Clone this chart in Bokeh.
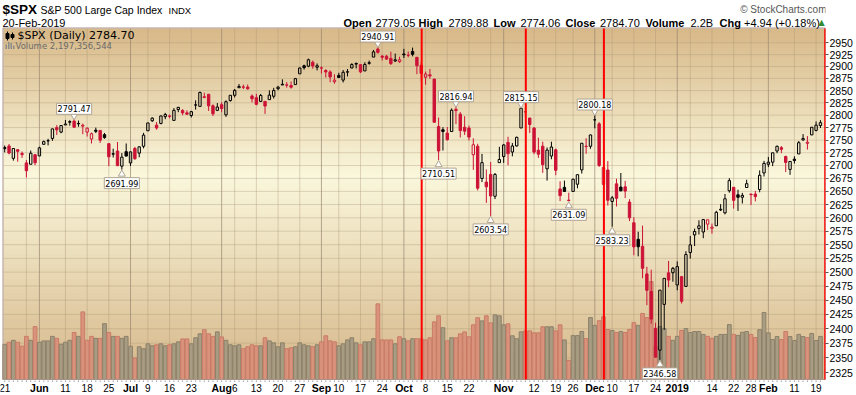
import math
import pandas as pd
from bokeh.plotting import figure
from bokeh.models import (Range1d, LinearScale, FixedTicker, Label, LabelSet,
                          ColumnDataSource, PrintfTickFormatter)
from bokeh.core.properties import value
from bokeh.embed import file_html
from bokeh.resources import INLINE

# ------------------------------------------------------------------ data
holidays = ["2018-05-28", "2018-07-04", "2018-09-03", "2018-11-22", "2018-12-05",
            "2018-12-25", "2019-01-01", "2019-01-21", "2019-02-18"]
dates = [d.strftime("%Y-%m-%d") for d in pd.bdate_range("2018-05-21", "2019-02-20")
         if d.strftime("%Y-%m-%d") not in holidays]

prev_close = 2712.97

opens = [2735.39, 2738.34, 2713.98, 2730.94, 2723.60, 2705.11, 2702.43, 2720.98, 2718.70, 2741.67,
         2748.46, 2753.25, 2774.84, 2765.84, 2780.18, 2785.60, 2787.94, 2783.21, 2777.78, 2765.79,
         2752.01, 2769.73, 2769.28, 2760.79, 2742.94, 2722.12, 2728.45, 2698.69, 2727.13, 2704.95,
         2733.27, 2724.19, 2737.68, 2768.51, 2788.56, 2779.82, 2783.14, 2796.93, 2797.36, 2789.34,
         2811.35, 2809.37, 2804.55, 2799.17, 2820.68, 2817.73, 2835.49, 2842.35, 2819.00, 2809.73,
         2821.17, 2800.48, 2829.62, 2840.29, 2855.92, 2856.79, 2857.19, 2838.90, 2835.46, 2827.88,
         2827.95, 2831.44, 2838.32, 2853.93, 2861.51, 2860.99, 2860.29, 2862.35, 2884.69, 2901.45,
         2900.62, 2908.94, 2898.37, 2896.96, 2891.59, 2888.64, 2868.26, 2881.39, 2871.57, 2888.29,
         2896.85, 2906.38, 2903.83, 2890.74, 2906.60, 2919.73, 2936.76, 2921.83, 2921.75, 2916.98,
         2911.65, 2910.03, 2926.29, 2923.80, 2931.69, 2919.35, 2902.54, 2877.53, 2882.51, 2873.90,
         2776.87, 2770.54, 2763.83, 2767.05, 2811.67, 2802.00, 2775.66, 2773.94, 2721.03, 2737.87,
         2674.88, 2667.86, 2682.65, 2640.68, 2705.60, 2717.58, 2745.45, 2726.37, 2738.40, 2774.13,
         2806.38, 2794.10, 2773.93, 2730.05, 2737.90, 2693.52, 2718.54, 2730.74, 2654.60, 2657.74,
         2633.36, 2649.97, 2663.75, 2691.45, 2736.97, 2737.76, 2790.50, 2782.43, 2663.51, 2691.26,
         2630.86, 2664.44, 2658.23, 2658.70, 2629.68, 2590.75, 2559.90, 2547.05, 2496.77, 2465.38,
         2400.56, 2363.12, 2442.50, 2498.77, 2498.94, 2476.96, 2491.92, 2474.33, 2535.61, 2568.11,
         2580.00, 2573.51, 2588.11, 2580.31, 2585.10, 2614.75, 2609.28, 2651.27, 2657.88, 2643.48,
         2638.84, 2657.44, 2644.97, 2644.89, 2653.62, 2685.49, 2702.32, 2706.49, 2728.34, 2735.05,
         2717.53, 2692.36, 2712.40, 2722.61, 2750.30, 2743.50, 2760.24, 2769.28, 2779.05]
highs = [2739.19, 2742.24, 2733.33, 2731.97, 2727.36, 2710.67, 2729.34, 2722.50, 2736.93, 2749.16,
         2752.61, 2772.39, 2779.90, 2779.39, 2790.21, 2789.80, 2791.47, 2789.06, 2782.81, 2774.99,
         2765.05, 2774.86, 2769.28, 2764.17, 2742.94, 2732.91, 2746.09, 2724.34, 2743.26, 2727.26,
         2736.58, 2737.83, 2764.41, 2784.65, 2795.58, 2785.91, 2799.22, 2804.53, 2801.19, 2814.19,
         2816.76, 2812.05, 2809.70, 2808.61, 2829.99, 2848.03, 2845.57, 2843.17, 2821.74, 2824.46,
         2825.83, 2829.91, 2840.38, 2853.29, 2863.43, 2862.44, 2862.48, 2842.20, 2843.40, 2843.11,
         2827.95, 2850.49, 2855.63, 2859.76, 2873.23, 2867.54, 2868.78, 2876.16, 2898.25, 2903.77,
         2916.50, 2912.46, 2906.32, 2900.18, 2894.21, 2892.05, 2883.81, 2886.93, 2892.52, 2894.65,
         2906.76, 2908.30, 2904.65, 2908.86, 2912.36, 2934.80, 2940.91, 2923.79, 2923.95, 2931.15,
         2927.22, 2920.53, 2937.06, 2931.42, 2939.86, 2919.78, 2909.64, 2889.45, 2894.83, 2874.02,
         2795.14, 2775.77, 2775.99, 2813.46, 2816.94, 2806.04, 2797.77, 2778.94, 2753.59, 2742.59,
         2722.70, 2692.38, 2706.85, 2685.43, 2736.69, 2741.67, 2756.55, 2744.27, 2756.82, 2815.15,
         2814.75, 2794.10, 2775.99, 2754.60, 2746.80, 2735.38, 2746.75, 2733.16, 2669.44, 2670.73,
         2647.55, 2674.35, 2682.53, 2744.00, 2753.75, 2760.88, 2800.18, 2785.93, 2696.15, 2708.54,
         2641.34, 2674.35, 2685.44, 2670.19, 2635.07, 2601.13, 2573.99, 2585.29, 2509.63, 2504.41,
         2410.34, 2467.76, 2489.10, 2520.27, 2509.24, 2519.49, 2493.14, 2538.07, 2566.16, 2579.82,
         2595.32, 2597.82, 2596.27, 2589.32, 2613.08, 2625.76, 2645.06, 2675.47, 2657.88, 2653.19,
         2647.20, 2672.38, 2644.97, 2650.93, 2690.44, 2708.95, 2716.66, 2724.99, 2738.98, 2738.08,
         2719.32, 2708.07, 2718.05, 2748.19, 2761.85, 2757.90, 2775.66, 2787.33, 2789.88]
lows = [2725.70, 2721.88, 2709.54, 2707.38, 2714.99, 2676.81, 2702.43, 2700.68, 2718.70, 2740.54,
        2739.51, 2748.46, 2760.16, 2763.59, 2780.17, 2778.78, 2774.65, 2776.52, 2761.73, 2757.12,
        2743.19, 2763.91, 2744.39, 2752.68, 2698.67, 2715.60, 2699.38, 2691.99, 2718.03, 2698.95,
        2711.16, 2716.02, 2733.52, 2768.51, 2786.24, 2770.77, 2781.53, 2791.69, 2793.39, 2789.24,
        2805.89, 2799.77, 2800.01, 2795.14, 2811.12, 2817.73, 2835.26, 2808.34, 2798.11, 2808.06,
        2805.85, 2796.34, 2827.37, 2835.98, 2855.92, 2853.09, 2851.98, 2825.81, 2819.88, 2826.58,
        2802.49, 2831.44, 2833.73, 2850.62, 2861.32, 2856.05, 2854.03, 2862.35, 2884.69, 2893.50,
        2898.40, 2895.22, 2891.73, 2885.13, 2876.92, 2867.29, 2864.12, 2875.94, 2866.78, 2879.20,
        2896.39, 2895.77, 2886.16, 2890.74, 2903.82, 2919.73, 2927.11, 2912.63, 2913.70, 2903.28,
        2909.27, 2907.50, 2917.91, 2919.37, 2921.36, 2883.92, 2869.29, 2862.08, 2874.27, 2784.86,
        2710.51, 2729.44, 2749.03, 2766.91, 2781.81, 2755.18, 2760.27, 2749.22, 2691.43, 2651.89,
        2667.84, 2628.16, 2603.54, 2635.34, 2705.60, 2705.10, 2700.44, 2717.94, 2737.08, 2774.13,
        2794.99, 2764.24, 2722.00, 2714.98, 2685.75, 2670.75, 2712.16, 2681.09, 2631.52, 2649.82,
        2631.09, 2649.97, 2655.89, 2684.38, 2722.94, 2732.76, 2773.38, 2697.18, 2621.53, 2623.14,
        2583.23, 2621.30, 2650.26, 2637.27, 2593.84, 2530.54, 2528.71, 2488.96, 2441.18, 2408.55,
        2351.10, 2346.58, 2397.94, 2472.89, 2482.82, 2467.47, 2443.96, 2474.33, 2524.56, 2547.56,
        2568.89, 2562.02, 2577.40, 2570.41, 2585.10, 2612.68, 2606.36, 2647.58, 2617.27, 2612.86,
        2627.01, 2657.33, 2624.06, 2631.05, 2648.34, 2678.65, 2696.88, 2698.75, 2724.03, 2724.15,
        2687.26, 2681.83, 2703.79, 2722.61, 2748.63, 2731.23, 2760.24, 2767.29, 2774.06]
closes = [2733.01, 2724.44, 2733.29, 2727.76, 2721.33, 2689.86, 2724.01, 2705.27, 2734.62, 2746.87,
          2748.80, 2772.35, 2770.37, 2779.03, 2782.00, 2786.85, 2775.63, 2782.49, 2779.66, 2773.75,
          2762.59, 2767.32, 2749.76, 2754.88, 2717.07, 2723.06, 2699.63, 2716.31, 2718.37, 2726.71,
          2713.22, 2736.61, 2759.82, 2784.17, 2793.84, 2774.02, 2798.29, 2801.31, 2798.43, 2809.55,
          2815.62, 2804.49, 2801.83, 2806.98, 2820.40, 2846.07, 2837.44, 2818.82, 2802.60, 2816.29,
          2813.36, 2827.22, 2840.35, 2850.40, 2858.45, 2857.70, 2853.58, 2833.28, 2821.93, 2839.96,
          2818.37, 2840.69, 2850.13, 2857.05, 2862.96, 2861.82, 2856.98, 2874.69, 2896.74, 2897.52,
          2914.04, 2901.13, 2901.52, 2896.72, 2888.60, 2878.05, 2871.68, 2877.13, 2887.89, 2888.92,
          2904.18, 2904.98, 2888.80, 2904.31, 2907.95, 2930.75, 2929.67, 2919.37, 2915.56, 2905.97,
          2914.00, 2913.98, 2924.59, 2923.43, 2925.51, 2901.61, 2885.57, 2884.43, 2880.34, 2785.68,
          2728.37, 2767.13, 2750.79, 2809.92, 2809.21, 2768.78, 2767.78, 2755.88, 2740.69, 2656.10,
          2705.57, 2658.69, 2641.25, 2682.63, 2711.74, 2740.37, 2723.06, 2738.31, 2755.45, 2813.89,
          2806.83, 2781.01, 2726.22, 2722.18, 2701.58, 2730.20, 2736.27, 2690.73, 2641.89, 2649.93,
          2632.56, 2673.45, 2682.17, 2743.79, 2737.80, 2760.17, 2790.37, 2700.06, 2695.95, 2633.08,
          2637.72, 2636.78, 2651.07, 2650.54, 2599.95, 2545.94, 2546.16, 2506.96, 2467.42, 2416.62,
          2351.10, 2467.70, 2488.83, 2485.74, 2506.85, 2510.03, 2447.89, 2531.94, 2549.69, 2574.41,
          2584.96, 2596.64, 2596.26, 2582.61, 2610.30, 2616.10, 2635.96, 2670.71, 2632.90, 2638.70,
          2642.33, 2664.76, 2643.85, 2640.00, 2681.05, 2704.10, 2706.53, 2724.87, 2737.70, 2731.61,
          2706.05, 2707.88, 2709.80, 2744.73, 2753.03, 2745.73, 2775.60, 2779.76, 2784.70]
# volume in billions of shares
volumes = [1.79, 1.90, 2.00, 1.90, 1.70, 2.20, 2.00, 2.70, 1.90, 1.97,
           1.97, 2.20, 2.10, 1.80, 1.90, 2.00, 2.40, 2.20, 3.45, 2.00,
           2.20, 2.10, 2.10, 2.85, 2.40, 2.20, 2.20, 2.10, 2.20, 1.70,
           1.10, 1.67, 1.57, 1.82, 1.72, 1.77, 1.82, 1.72, 1.77, 1.82,
           1.92, 2.07, 2.07, 1.82, 2.13, 2.33, 2.54, 2.33, 2.20, 2.43,
           2.17, 2.00, 1.77, 1.72, 1.77, 1.57, 1.67, 1.77, 1.72, 1.72,
           2.13, 1.97, 1.87, 1.67, 1.87, 1.57, 1.62, 1.67, 1.87, 1.77,
           1.72, 1.67, 1.77, 1.92, 2.23, 1.97, 1.92, 1.72, 1.82, 2.02,
           2.13, 1.87, 1.77, 1.92, 1.92, 2.08, 3.86, 2.02, 2.02, 2.02,
           1.82, 2.18, 2.08, 1.97, 2.08, 2.08, 2.08, 2.02, 2.13, 2.94,
           3.25, 2.64, 1.97, 2.13, 2.13, 2.33, 2.43, 2.18, 2.79, 3.15,
           2.99, 3.25, 2.89, 3.30, 3.25, 2.79, 2.84, 2.23, 2.08, 2.43,
           2.48, 2.48, 2.38, 2.38, 2.69, 2.69, 2.69, 2.48, 2.79, 2.02,
           0.97, 2.24, 2.24, 2.45, 2.09, 3.16, 2.76, 3.00, 3.20, 2.55,
           2.50, 2.40, 2.45, 2.40, 2.55, 2.90, 2.76, 3.37, 3.16, 5.00,
           1.70, 2.70, 2.60, 2.20, 2.00, 2.20, 2.50, 2.60, 2.40, 2.45,
           2.45, 2.30, 2.20, 2.10, 2.20, 2.30, 2.30, 2.80, 2.30, 2.25,
           2.41, 2.45, 2.30, 2.14, 2.54, 3.42, 2.38, 2.04, 2.19, 2.04,
           2.45, 2.19, 1.99, 2.30, 2.19, 2.14, 2.35, 1.99, 2.197]

x_tick_dates = ["2018-05-21", "2018-06-01", "2018-06-11", "2018-06-18", "2018-06-25",
                "2018-07-02", "2018-07-09", "2018-07-16", "2018-07-23", "2018-08-01",
                "2018-08-06", "2018-08-13", "2018-08-20", "2018-08-27", "2018-09-04",
                "2018-09-10", "2018-09-17", "2018-09-24", "2018-10-01", "2018-10-08",
                "2018-10-15", "2018-10-22", "2018-11-01", "2018-11-12", "2018-11-19",
                "2018-11-26", "2018-12-03", "2018-12-10", "2018-12-17", "2018-12-24",
                "2019-01-02", "2019-01-14", "2019-01-22", "2019-01-28", "2019-02-01",
                "2019-02-11", "2019-02-19"]
x_tick_labels = ["21", "Jun", "11", "18", "25", "Jul", "9", "16", "23", "Aug", "6", "13", "20",
                 "27", "Sep", "10", "17", "24", "Oct", "8", "15", "22", "Nov", "12", "19", "26",
                 "Dec", "10", "17", "24", "2019", "14", "22", "28", "Feb", "11", "19"]
month_labels = ["Jun", "Jul", "Aug", "Sep", "Oct", "Nov", "Dec", "2019", "Feb"]
extra_week_lines = ["2018-05-29", "2018-10-29", "2019-01-07"]
y_ticks = [2325, 2350, 2375, 2400, 2425, 2450, 2475, 2500, 2525, 2550, 2575, 2600, 2625,
           2650, 2675, 2700, 2725, 2750, 2775, 2800, 2825, 2850, 2875, 2900, 2925, 2950]

ann_dates = ["2018-06-13", "2018-06-28", "2018-09-21", "2018-10-11", "2018-10-17", "2018-10-29",
             "2018-11-07", "2018-11-23", "2018-12-03", "2018-12-10", "2018-12-26"]
ann_kinds = ["high", "low", "high", "low", "high", "low", "high", "low", "high", "low", "low"]
event_dates = ["2018-10-05", "2018-11-08", "2018-12-06", "2019-02-21"]

# ------------------------------------------------------------------ geometry (pixels)
W, H = 856, 395
FR = 825                        # right edge of the frame / chart
CL, CT, CB = 3, 28, 379          # chart area left / top / bottom
PX_PER_DAY = 4.339
X0 = -4.2 / PX_PER_DAY
X1 = X0 + FR / PX_PER_DAY
YC0, YC1 = 2313.6, 2980.6        # price at chart bottom / top
K = (CB - CT) / math.log(YC1 / YC0)
VOL_PX_PER_B = 19.6


def dx(px):
    return X0 + px / PX_PER_DAY


def dy(py):
    return YC0 * math.exp((CB - py) / K)


def shift(v, px):
    return v * math.exp(px / K)


RED = "#cc1236"
BLACK = "#000000"
GRIDC = "#a89474"

n = len(dates)
idx = list(range(n))
idx_of = {d: i for i, d in enumerate(dates)}

p = figure(width=W, height=H, output_backend="svg", toolbar_location=None, title=None,
           y_axis_type="log", y_axis_location="right", x_axis_location=None,
           x_range=Range1d(X0, X1), y_range=Range1d(dy(H), dy(0)),
           min_border_left=0, min_border_right=W - FR, min_border_top=0, min_border_bottom=0,
           background_fill_color="white", border_fill_color="white", outline_line_color=None)
p.extra_y_ranges = {"vol": Range1d((CB - H) / VOL_PX_PER_B, CB / VOL_PX_PER_B)}
p.extra_y_scales = {"vol": LinearScale()}
p.xgrid.visible = False
p.ygrid.visible = False

# ---- background gradient (bands of equal pixel height)
NB = 70
stops = [(0.0, (215, 184, 136)), (0.42, (250, 247, 220)), (1.0, (213, 182, 136))]


def grad(f):
    for (f0, c0), (f1, c1) in zip(stops[:-1], stops[1:]):
        if f0 <= f <= f1:
            t = (f - f0) / (f1 - f0)
            return "#%02x%02x%02x" % tuple(int(round(a + (b - a) * t)) for a, b in zip(c0, c1))
    return "#%02x%02x%02x" % stops[-1][1]


FHc = CB - CT
bt, bb, bc = [], [], []
for k in range(NB):
    bt.append(dy(CT + k * FHc / NB - (0.5 if k else 0)))
    bb.append(dy(CT + (k + 1) * FHc / NB + (0.5 if k < NB - 1 else 0)))
    bc.append(grad((k + 0.5) / NB))
p.quad(left=dx(CL), right=dx(FR), top=bt, bottom=bb, fill_color=bc, line_color=None)

# ---- grid lines (inside chart area only)
tick_pos = [idx_of[d] for d in x_tick_dates]
month_pos = [pos for pos, lab in zip(tick_pos, x_tick_labels) if lab in month_labels]
week_pos = [pos for pos, lab in zip(tick_pos, x_tick_labels) if lab not in month_labels and pos > 0]
week_pos += [idx_of[d] for d in extra_week_lines]
p.segment(x0=dx(CL), x1=dx(FR), y0=y_ticks, y1=y_ticks, line_color=GRIDC, line_alpha=0.35,
          line_width=1)
p.segment(x0=week_pos, x1=week_pos, y0=dy(CB), y1=dy(CT), line_color=GRIDC, line_alpha=0.38,
          line_width=1)
p.segment(x0=month_pos, x1=month_pos, y0=dy(CB), y1=dy(CT), line_color="#9a8670",
          line_alpha=0.7, line_width=1)

# ---- volume
prevs = [prev_close] + closes[:-1]
up = [c >= pc for c, pc in zip(closes, prevs)]
vsrc = ColumnDataSource(dict(x=idx, top=volumes,
                             fill=["#a89c82" if u else "#d9937c" for u in up],
                             line=["#8c806a" if u else "#c97b66" for u in up]))
p.vbar(x="x", top="top", bottom=0, width=0.86, source=vsrc, y_range_name="vol",
       fill_color="fill", line_color="line", line_width=1)

# ---- candles
col = [BLACK if u else RED for u in up]
btop = [max(o, c) for o, c in zip(opens, closes)]
bbot = [min(o, c) for o, c in zip(opens, closes)]
csrc = ColumnDataSource(dict(x=idx, h=highs, l=lows, t=btop, b=bbot, c=col))
p.segment(x0="x", y0="h", x1="x", y1="t", color="c", line_width=1, source=csrc)
p.segment(x0="x", y0="b", x1="x", y1="l", color="c", line_width=1, source=csrc)
fill_i = [i for i in idx if closes[i] < opens[i]]
holl_i = [i for i in idx if closes[i] >= opens[i]]
fsrc = ColumnDataSource(dict(x=fill_i, t=[btop[i] for i in fill_i], b=[bbot[i] for i in fill_i],
                             c=[col[i] for i in fill_i]))
hsrc = ColumnDataSource(dict(x=holl_i, t=[btop[i] for i in holl_i], b=[bbot[i] for i in holl_i],
                             c=[col[i] for i in holl_i]))
p.vbar(x="x", top="t", bottom="b", width=0.55, fill_color="c", line_color="c", line_width=1,
       source=fsrc)
p.vbar(x="x", top="t", bottom="b", width=0.55, fill_color=None, line_color="c", line_width=1,
       source=hsrc)

# ---- chart border
p.quad(left=dx(CL - 0.5), right=dx(FR), top=dy(CT - 0.5), bottom=dy(CB), fill_color=None,
       line_color="#a8928a", line_width=1)

# ---- event lines
ev_pos = [sum(1 for d in dates if d < ev) + 0.1 for ev in event_dates]
p.segment(x0=ev_pos, x1=ev_pos, y0=dy(CB), y1=dy(CT), line_color="#ff0000", line_width=2)

# ---- high / low call-outs
for d, kind in zip(ann_dates, ann_kinds):
    i = idx_of[d]
    if kind == "high":
        v = highs[i]
        p.scatter([i], [shift(v, 3.5)], marker="inverted_triangle", size=7,
                  fill_color="white", line_color="#b0a494")
        p.add_layout(Label(x=i, y=v, text="%.2f" % v, y_offset=5, text_align="center",
                           text_baseline="bottom", text_font="DejaVu Sans", text_font_size="8px",
                           text_color="black", background_fill_color="white",
                           border_line_color="#b0a494", padding=(1, 2)))
    else:
        v = lows[i]
        p.scatter([i], [shift(v, -4.5)], marker="triangle", size=7,
                  fill_color="white", line_color="#b0a494")
        p.add_layout(Label(x=i, y=v, text="%.2f" % v, y_offset=-8, text_align="center",
                           text_baseline="top", text_font="DejaVu Sans", text_font_size="8px",
                           text_color="black", background_fill_color="white",
                           border_line_color="#b0a494", padding=(1, 2)))

# ---- right price axis
p.yaxis.ticker = FixedTicker(ticks=y_ticks)
p.yaxis.formatter = PrintfTickFormatter(format="%d")
p.yaxis.axis_line_color = None
p.yaxis.major_tick_out = 3
p.yaxis.major_tick_in = 0
p.yaxis.minor_tick_line_color = None
p.yaxis.major_tick_line_color = "#555555"
p.yaxis.major_label_standoff = 1
p.yaxis.major_label_text_font = "Liberation Sans"
p.yaxis.major_label_text_font_size = "10.5px"
p.yaxis.major_label_text_color = "black"

# ---- date axis (day ticks + labels)
p.segment(x0=idx, x1=idx, y0=dy(CB + 1), y1=dy(CB + 2.5), line_color="#a0a0a0", line_width=1)
wk_lab = [lab for lab in x_tick_labels if lab not in month_labels]
wk_x = [pos for pos, lab in zip(tick_pos, x_tick_labels) if lab not in month_labels]
mo_lab = [lab for lab in x_tick_labels if lab in month_labels]
p.add_layout(LabelSet(x="x", y="y", text="t",
                      source=ColumnDataSource(dict(x=wk_x, y=[dy(387.5)] * len(wk_x), t=wk_lab)),
                      text_align="center", text_baseline="middle",
                      text_font=value("Liberation Sans"), text_font_size=value("10px"),
                      text_color="black"))
p.add_layout(LabelSet(x="x", y="y", text="t",
                      source=ColumnDataSource(dict(x=month_pos, y=[dy(387.5)] * len(month_pos),
                                                   t=mo_lab)),
                      text_align="center", text_baseline="middle",
                      text_font=value("Liberation Sans"), text_font_size=value("10.5px"),
                      text_font_style="bold", text_color="black"))


# ---- header
def hlabel(px, py, text, size="11px", style="normal", color="black", align="left",
           font="Liberation Sans"):
    p.add_layout(Label(x=dx(px), y=dy(py), text=text, text_align=align, text_baseline="middle",
                       text_font=font, text_font_size=size, text_font_style=style,
                       text_color=color))


hlabel(2, 9, "$SPX", size="13.5px", style="bold")
hlabel(40, 9.5, "S&P 500 Large Cap Index", size="10.5px")
hlabel(168, 10, "INDX", size="9.5px")
hlabel(2, 22, "20-Feb-2019", size="11px")
hlabel(826, 9, "\u00a9 StockCharts.com", size="10px", color="#555555", align="right")
for px, txt, st in [(343, "Open", "bold"), (375, "2779.05", "normal"),
                    (418, "High", "bold"), (448, "2789.88", "normal"),
                    (493, "Low", "bold"), (520, "2774.06", "normal"),
                    (565, "Close", "bold"), (599.5, "2784.70", "normal"),
                    (645, "Volume", "bold"), (690, "2.2B", "normal"),
                    (719, "Chg", "bold"), (743.5, "+4.94 (+0.18%)", "normal")]:
    hlabel(px, 22.5, txt, size="11px", style=st)
hlabel(818, 22, "\u25b2", size="8px", color="#2e8b2e", font="DejaVu Sans")

# ---- legend in plot (with small icons)
p.segment(x0=[dx(7), dx(12)], x1=[dx(7), dx(12)], y0=[dy(31), dy(32)], y1=[dy(40), dy(39)],
          line_color="black", line_width=1)
p.quad(left=[dx(5.5), dx(10.5)], right=[dx(8.5), dx(13.5)], top=[dy(33), dy(34)],
       bottom=[dy(38), dy(37)], fill_color="black", line_color="black")
p.quad(left=[dx(5), dx(7.5), dx(10), dx(12.5)], right=[dx(6.5), dx(9), dx(11.5), dx(14)],
       top=[dy(44), dy(41.5), dy(42.5), dy(45)], bottom=dy(48.5), fill_color="#8a8a8a",
       line_color=None)
hlabel(17, 34.5, "$SPX (Daily) 2784.70", size="11px", font="DejaVu Sans")
hlabel(15, 45.5, "Volume 2,197,356,544", size="8.5px", color="#6a6a6a", font="DejaVu Sans")

open("out.html", "w").write(file_html(p, INLINE))
